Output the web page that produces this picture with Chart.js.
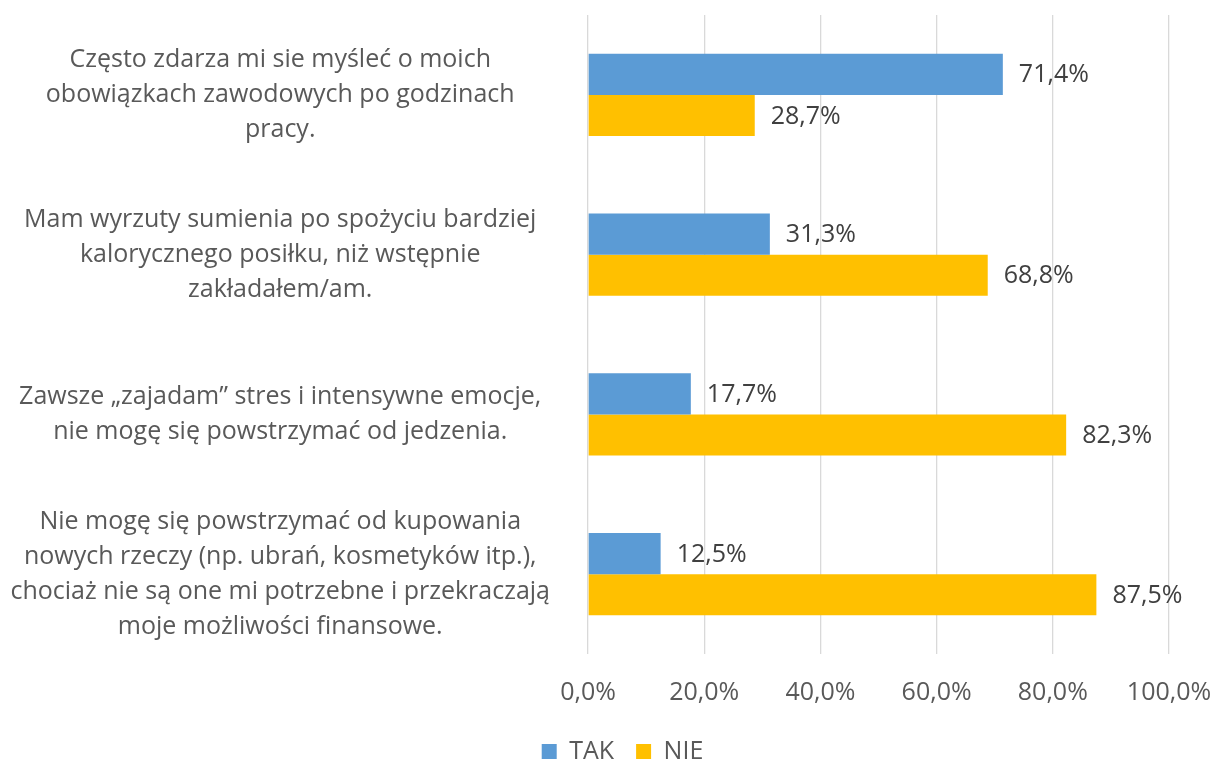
<!DOCTYPE html>
<html>
<head>
<meta charset="utf-8">
<script src="https://cdn.jsdelivr.net/npm/chart.js@4/dist/chart.umd.min.js"></script>
<style>
  html, body { margin: 0; padding: 0; background: #fff; }
  #wrap { position: relative; width: 1215px; height: 760px; }
</style>
</head>
<body>
<div id="wrap"><canvas id="chart"></canvas></div>
<script>
"use strict";

// data
const categories = [
    ["Często zdarza mi sie myśleć o moich", "obowiązkach zawodowych po godzinach", "pracy."],
    ["Mam wyrzuty sumienia po spożyciu bardziej", "kalorycznego posiłku, niż wstępnie", "zakładałem/am."],
    ["Zawsze „zajadam” stres i intensywne emocje,", "nie mogę się powstrzymać od jedzenia."],
    ["Nie mogę się powstrzymać od kupowania", "nowych rzeczy (np. ubrań, kosmetyków itp.),", "chociaż nie są one mi potrzebne i przekraczają", "moje możliwości finansowe."]
];
const takValues = [71.4, 31.3, 17.7, 12.5];
const nieValues = [28.7, 68.8, 82.3, 87.5];
const seriesNames = ["TAK", "NIE"];
const xTicks = [0, 20, 40, 60, 80, 100];

const FONT = "'Open Sans', 'Liberation Sans', sans-serif";
const TEXT = "#595959";

const pct = v => v.toFixed(1).replace(".", ",") + "%";

// value labels right of each bar
const barLabels = {
    id: "barLabels",
    afterLayout(chart) {
        // legend sits centred on the whole picture, not on the padded area
        chart.legend.left += 38;
        chart.legend.right += 38;
    },
    afterDatasetsDraw(chart) {
        const ctx = chart.ctx;
        ctx.save();
        ctx.font = "25px " + FONT;
        ctx.fillStyle = "#404040";
        ctx.textAlign = "left";
        ctx.textBaseline = "middle";
        chart.data.datasets.forEach((ds, i) => {
            chart.getDatasetMeta(i).data.forEach((bar, j) => {
                ctx.fillText(pct(ds.data[j]), bar.x + 16, bar.y + 1);
            });
        });
        ctx.restore();
    }
};

new Chart(document.getElementById("chart"), {
    type: "bar",
    data: {
        labels: categories,
        datasets: [
            { label: seriesNames[0], data: takValues, backgroundColor: "#5B9BD5" },
            { label: seriesNames[1], data: nieValues, backgroundColor: "#FFC000" }
        ]
    },
    options: {
        indexAxis: "y",
        responsive: true,
        maintainAspectRatio: false,
        animation: false,
        categoryPercentage: 0.515,
        barPercentage: 1,
        layout: { padding: { top: 15, right: 46, left: 0, bottom: -14 } },
        plugins: {
            legend: {
                position: "bottom",
                labels: {
                    color: TEXT,
                    font: { family: FONT, size: 25 },
                    boxWidth: 15,
                    boxHeight: 15,
                    padding: 22
                }
            },
            tooltip: { enabled: false }
        },
        scales: {
            x: {
                min: 0,
                max: 100,
                afterBuildTicks: axis => { axis.ticks = xTicks.map(v => ({ value: v })); },
                afterFit: axis => {
                    axis.height = 63;
                    axis.paddingLeft = 0;
                    axis.paddingRight = 0;
                },
                grid: { color: "#D9D9D9", lineWidth: 1.3, drawTicks: false },
                border: { display: false },
                ticks: {
                    color: TEXT,
                    font: { family: FONT, size: 25 },
                    padding: 24,
                    maxRotation: 0,
                    callback: v => pct(v)
                }
            },
            y: {
                afterFit: axis => {
                    axis.width = 588;
                    axis.paddingTop = 0;
                    axis.paddingBottom = 0;
                },
                grid: { display: false },
                border: { display: false },
                ticks: {
                    color: TEXT,
                    crossAlign: "center",
                    padding: 30,
                    font: { family: FONT, size: 25, lineHeight: 1.4 }
                }
            }
        }
    },
    plugins: [barLabels]
});
</script>
</body>
</html>
